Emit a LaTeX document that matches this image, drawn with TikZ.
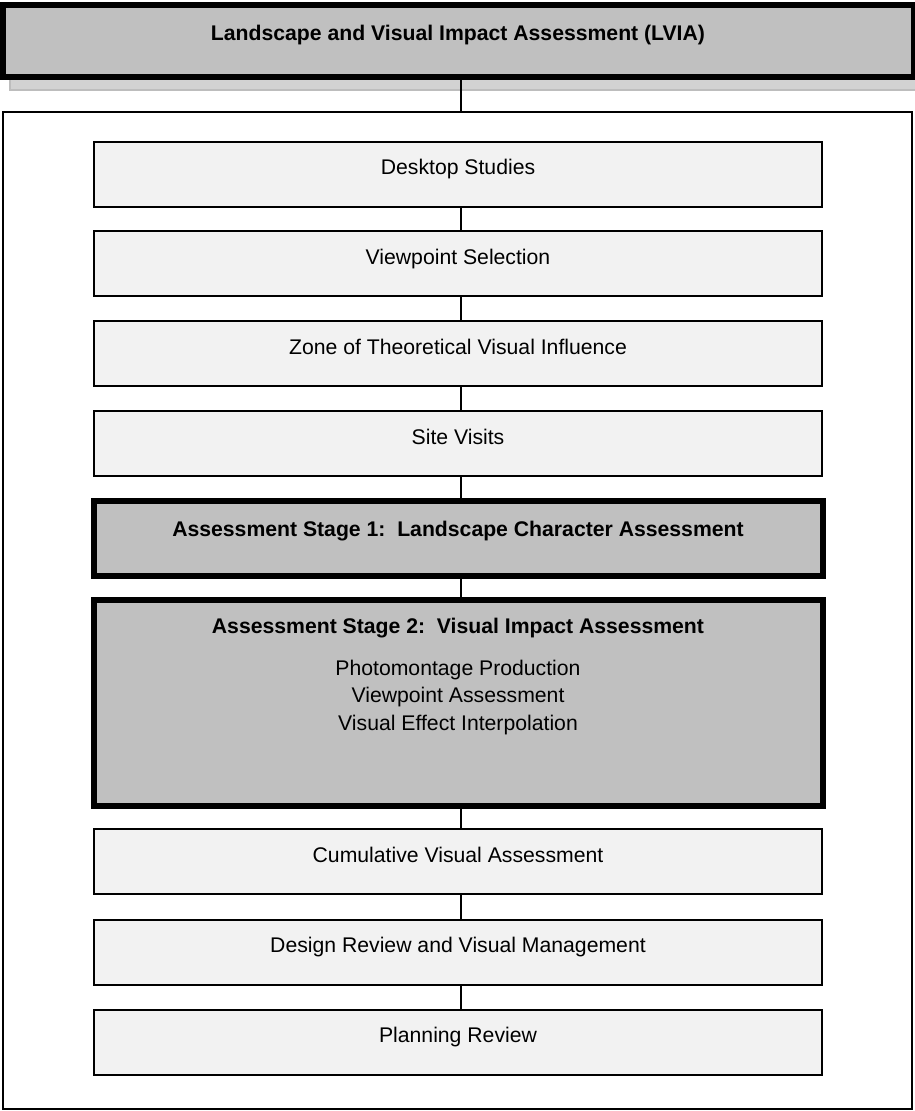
\documentclass[tikz,border=0pt]{standalone}
\usepackage{fontspec}
\setmainfont{Liberation Sans}
\definecolor{boxgray}{HTML}{C0C0C0}
\definecolor{boxlight}{HTML}{F2F2F2}
\definecolor{shadowgray}{HTML}{D2D2D2}
\definecolor{shadowedge}{HTML}{BDBDBD}
\begin{document}
\begin{tikzpicture}[x=1pt,y=-1pt,
  plainbox/.style={draw=black, line width=2.2pt, fill=boxlight, minimum width=728pt, minimum height=65pt, inner sep=0pt, outer sep=0pt},
  stagebox/.style={draw=black, line width=6pt, fill=boxgray, minimum width=729.3pt, inner sep=0pt, outer sep=0pt},
  txt/.style={font=\fontsize{21.2}{27.5}\selectfont, anchor=base, inner sep=0pt},
  btxt/.style={font=\fontsize{21.2}{27.5}\selectfont\bfseries, anchor=base, inner sep=0pt},
  conn/.style={line width=2pt, draw=black}]
\useasboundingbox (0,0) rectangle (915,1111);
\clip (0,0) rectangle (915,1111);
\fill[white] (0,0) rectangle (915,1111);
% shadow of the title box
\draw[fill=shadowgray, draw=shadowedge, line width=1.6pt] (9.8,13) rectangle (930,89.9);
% title box
\node[draw=black, line width=6pt, fill=boxgray, minimum width=910.7pt, minimum height=72.3pt, inner sep=0pt, outer sep=0pt] (title) at (458.35,40.85) {};
\node[btxt] (titletxt) at (458,40) {Landscape and Visual Impact Assessment (LVIA)};
% outer frame
\node[draw=black, line width=2pt, minimum width=909pt, minimum height=997pt, inner sep=0pt, outer sep=0pt] (frame) at (457.5,610.5) {};
% boxes
\node[plainbox] (ds) at (457.85,174.2) {};
\node[plainbox] (vs) at (457.85,263.85) {};
\node[plainbox] (zt) at (457.85,353.85) {};
\node[plainbox] (sv) at (457.85,443.65) {};
\node[stagebox, minimum height=74.4pt] (s1) at (458.35,538.5) {};
\node[stagebox, minimum height=206pt] (s2) at (458.35,702.7) {};
\node[plainbox] (cv) at (457.85,861.85) {};
\node[plainbox] (dr) at (457.85,952.35) {};
\node[plainbox] (pr) at (457.85,1042.35) {};
% connectors
\begin{scope}[on background layer/.style={}]
\draw[conn] ([xshift=2.65pt]title.south) -- ([xshift=3.5pt]frame.north);
\draw[conn] ([xshift=3.15pt]ds.south) -- ([xshift=3.15pt]vs.north);
\draw[conn] ([xshift=3.15pt]vs.south) -- ([xshift=3.15pt]zt.north);
\draw[conn] ([xshift=3.15pt]zt.south) -- ([xshift=3.15pt]sv.north);
\draw[conn] ([xshift=3.15pt]sv.south) -- ([xshift=2.65pt]s1.north);
\draw[conn] ([xshift=2.65pt]s1.south) -- ([xshift=2.65pt]s2.north);
\draw[conn] ([xshift=2.65pt]s2.south) -- ([xshift=3.15pt]cv.north);
\draw[conn] ([xshift=3.15pt]cv.south) -- ([xshift=3.15pt]dr.north);
\draw[conn] ([xshift=3.15pt]dr.south) -- ([xshift=3.15pt]pr.north);
\end{scope}
% texts
\node[txt] (dst) at (458,174.7) {Desktop Studies};
\node[txt] (vst) at (458,264.3) {Viewpoint Selection};
\node[txt] (ztt) at (458,354.3) {Zone of Theoretical Visual Influence};
\node[txt] (svt) at (458,444.1) {Site Visits};
\node[btxt] (s1t) at (458,536) {Assessment Stage 1:\ \ Landscape Character Assessment};
\node[btxt] (s2t) at (458,633) {Assessment Stage 2:\ \ Visual Impact Assessment};
\node[txt] (s2a) at (458,675) {Photomontage Production};
\node[txt] (s2b) at (458,702.6) {Viewpoint Assessment};
\node[txt] (s2c) at (458,730.2) {Visual Effect Interpolation};
\node[txt] (cvt) at (458,862.3) {Cumulative Visual Assessment};
\node[txt] (drt) at (458,952.8) {Design Review and Visual Management};
\node[txt] (prt) at (458,1042.8) {Planning Review};
\end{tikzpicture}
\end{document}
